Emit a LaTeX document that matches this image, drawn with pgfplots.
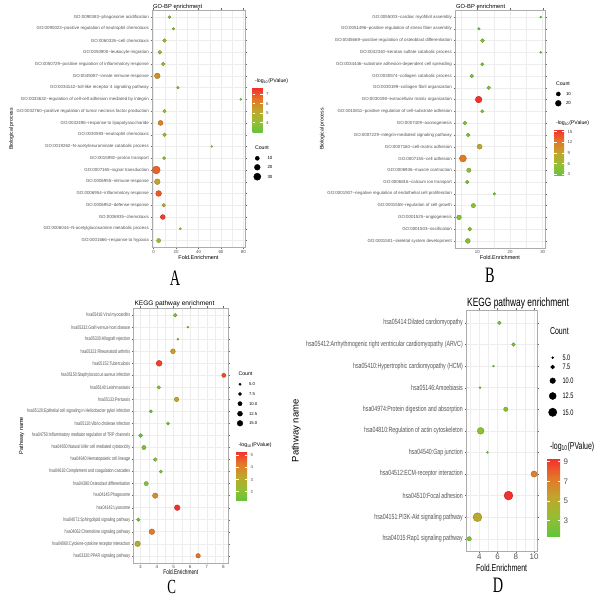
\documentclass[border=0pt]{standalone}
\usepackage{graphicx}
\usepackage{fontspec}
\setmainfont{Liberation Sans}
\newfontfamily\letterfont{Liberation Serif}
\usepackage{pgfplots}
\usepackage{pgfplotstable}
\pgfplotsset{compat=1.18}

\newcommand{\T}{\textasciitilde}
\newcommand{\fs}[1]{\fontsize{#1}{#1}\selectfont}
\newcommand{\sq}[1]{\scalebox{0.7}[1]{#1}}
\newcommand{\lp}{-log\textsubscript{10}(PValue)}
\definecolor{txt}{gray}{0.32}

% i = row counted from the bottom, fe = fold enrichment, n = count, p = -log10(P)
% A: GO-BP (first gene set)
\pgfplotstableread{
i  fe    n   p
20 14.2  5   4.3
19 17.7  4   3.8
18 9.7   8   4.6
17 5.6   9   4.2
16 8.6   8   4.4
15 3.3   19  5.8
14 21.6  4   4.0
13 77.6  2   3.5
12 9.8   7   4.2
11 6.2   15  6.2
10 9.7   8   4.7
9  51.7  2   4.0
8  9.4   6   3.8
7  2.4   36  6.8
6  3.3   19  5.3
5  4.5   20  7.0
4  9.1   8   4.9
3  8.2   14  7.4
2  23.8  3   3.9
1  4.5   10  4.1
}\dataA

% B: GO-BP (second gene set)
\pgfplotstableread{
i  fe    n   p
20 29.4  2   2.6
19 10.5  4   3.5
18 11.6  9   4.5
17 29.4  2   2.8
16 11.5  6   4.0
15 8.3   8   4.3
14 13.5  8   4.8
13 10.4  26  15.5
12 11.5  6   4.0
11 6.2   9   4.2
10 7.2   9   4.5
9  10.7  15  8.5
8  5.6   29  12.0
7  7.4   11  5.0
6  6.9   8   4.3
5  15.2  4   3.6
4  8.8   11  4.8
3  4.4   13  4.6
2  7.7   9   4.6
1  7.1   14  5.0
}\dataB

% C: KEGG (first gene set)
\pgfplotstableread{
i  fe    n   p
21 5.10  8   1.8
20 5.86  4   1.6
19 5.26  4   1.7
18 4.96  12  3.5
17 4.13  16  5.1
16 8.03  10  4.9
15 4.11  8   2.0
14 5.18  11  3.3
13 3.63  7   1.6
12 4.66  7   1.8
11 3.01  9   1.3
10 3.21  10  1.7
9  3.89  9   1.8
8  4.23  7   1.9
7  3.35  10  1.9
6  3.89  14  3.8
5  5.22  15  5.3
4  2.87  8   1.6
3  3.69  15  4.2
2  2.83  15  3.0
1  6.48  11  4.4
}\dataC

% D: KEGG (second gene set)
\pgfplotstableread{
i  fe    n   p
11 6.2   7   2.3
10 7.75  7   2.5
9  5.55  5   2.0
8  4.08  5   1.5
7  6.9   8   2.8
6  4.15  12  3.0
5  4.9   5   1.8
4  10.0  11  7.0
3  7.2   16  9.3
2  3.8   16  5.0
1  2.9   8   2.6
}\dataD

\pgfplotsset{
  /pgf/number format/assume math mode=true,
  colormap={gr}{rgb255=(100,195,60) rgb255=(150,190,50) rgb255=(192,165,45) rgb255=(228,118,40) rgb255=(243,45,45)},
  enr/.style={
    scale only axis,
    anchor=south west,
    ymin=0.4,
    tick align=outside,
    major tick length=1.5pt,
    minor tick length=0pt,
    tick style={black!60, line width=0.3pt},
    axis line style={gray!65, line width=0.5pt},
    grid=both,
    major grid style={gray!14, line width=0.45pt},
    minor grid style={gray!14, line width=0.25pt},
    ticklabel style={text=txt},
    xticklabel style={inner sep=1pt},
    yticklabel style={inner sep=1.5pt},
    every axis title/.style={at={(0,1)}, anchor=south west, inner sep=1pt},
    xlabel style={inner sep=0.5pt},
    ylabel style={inner sep=1pt},
    colormap name=gr,
    colorbar shift/.style={},
    colorbar,
  },
  cbar/.style={
    scale only axis,
    at={(parent axis.north west)},
    anchor=north west,
    axis line style={draw=none},
    tick align=inside,
    major tick length=2.5pt,
    ytick style={white, line width=0.5pt},
    ytick pos=both,
    yticklabel pos=right,
    yticklabel style={text=txt},
  },
  sizeA/.style={visualization depends on={0.65*sqrt(\thisrow{n}) \as \rad}},
  sizeC/.style={visualization depends on={1.01*sqrt(\thisrow{n})-1.09 \as \rad}},
  sizeD/.style={visualization depends on={1.94*sqrt(\thisrow{n})-3.34 \as \rad}},
  dots/.style={scatter, only marks, mark=*, point meta=\thisrow{p},
    scatter/@pre marker code/.append style={/tikz/mark size=\rad}},
  keys/.style={scatter, only marks, mark=*, point meta=\thisrow{n},
    scatter/use mapped color={draw=black, fill=black},
    scatter/@pre marker code/.append style={/tikz/mark size=\rad}},
}

\begin{document}
\begin{tikzpicture}
\path[use as bounding box] (0pt,0pt) rectangle (600pt,597pt);

% ---------- A ----------
\begin{axis}[enr,
  at={(152pt,349.4pt)}, width=93pt, height=237.6pt,
  xmin=-1.4, xmax=81.4, ymax=20.6,
  xtick={0,20,40,60,80}, minor xtick={10,30,50,70},
  ytick={1,...,20},
  yticklabels={
    GO:0001666\T response to hypoxia,
    GO:0006044\T N-acetylglucosamine metabolic process,
    GO:0006935\T chemotaxis,
    GO:0006952\T defense response,
    GO:0006954\T inflammatory response,
    GO:0006955\T immune response,
    GO:0007165\T signal transduction,
    GO:0015992\T proton transport,
    GO:0019262\T N-acetylneuraminate catabolic process,
    GO:0030593\T neutrophil chemotaxis,
    GO:0032496\T response to lipopolysaccharide,
    GO:0032760\T positive regulation of tumor necrosis factor production,
    GO:0033632\T regulation of cell-cell adhesion mediated by integrin,
    GO:0034142\T toll-like receptor 4 signaling pathway,
    GO:0045087\T innate immune response,
    GO:0050729\T positive regulation of inflammatory response,
    GO:0050900\T leukocyte migration,
    GO:0060326\T cell chemotaxis,
    GO:0090023\T positive regulation of neutrophil chemotaxis,
    GO:0090383\T phagosome acidification},
  ticklabel style={font=\fs{4.4}},
  title={GO-BP enrichment}, title style={font=\fs{5.8}},
  xlabel={Fold.Enrichment}, xlabel style={font=\fs{5.5}},
  ylabel={Biological process}, ylabel style={font=\fs{5.2}},
  point meta min=2.96, point meta max=7.66,
  colorbar style={cbar, xshift=100.7pt, yshift=-77.7pt,
    width=10pt, height=45pt, ytick={4,5,6,7}, yticklabel style={font=\fs{4.4}}},
]
\addplot[dots, sizeA] table[x=fe, y=i] {\dataA};
\end{axis}

% ---------- B ----------
\begin{axis}[enr,
  at={(455pt,349pt)}, width=90pt, height=238pt,
  xmin=3.18, xmax=30.7, ymax=20.6,
  xtick={10,20,30}, minor xtick={5,15,25},
  ytick={1,...,20},
  yticklabels={
    GO:0001501\T skeletal system development,
    GO:0001503\T ossification,
    GO:0001525\T angiogenesis,
    GO:0001558\T regulation of cell growth,
    GO:0001937\T negative regulation of endothelial cell proliferation,
    GO:0006816\T calcium ion transport,
    GO:0006936\T muscle contraction,
    GO:0007155\T cell adhesion,
    GO:0007160\T cell-matrix adhesion,
    GO:0007229\T integrin-mediated signaling pathway,
    GO:0007409\T axonogenesis,
    GO:0010811\T positive regulation of cell-substrate adhesion,
    GO:0030198\T extracellular matrix organization,
    GO:0030199\T collagen fibril organization,
    GO:0030574\T collagen catabolic process,
    GO:0034446\T substrate adhesion-dependent cell spreading,
    GO:0042340\T keratan sulfate catabolic process,
    GO:0045669\T positive regulation of osteoblast differentiation,
    GO:0051496\T positive regulation of stress fiber assembly,
    GO:0055003\T cardiac myofibril assembly},
  ticklabel style={font=\fs{4.4}},
  title={GO-BP enrichment}, title style={font=\fs{5.8}},
  xlabel={Fold.Enrichment}, xlabel style={font=\fs{5.5}},
  ylabel={Biological process}, ylabel style={font=\fs{5.2}},
  point meta min=2.52, point meta max=15.68,
  colorbar style={cbar, xshift=99pt, yshift=-119.3pt,
    width=10pt, height=46.7pt, ytick={3,6,9,12,15}, yticklabel style={font=\fs{4.4}}},
]
\addplot[dots, sizeA] table[x=fe, y=i] {\dataB};
\end{axis}

% ---------- C ----------
\begin{axis}[enr,
  at={(133.3pt,34pt)}, width=95pt, height=255pt,
  xmin=2.57, xmax=8.30, ymax=21.6,
  xtick={3,4,5,6,7,8}, minor xtick={3.5,4.5,5.5,6.5,7.5},
  ytick={1,...,21},
  yticklabels={
    \sq{hsa03320:PPAR signaling pathway},
    \sq{hsa04060:Cytokine-cytokine receptor interaction},
    \sq{hsa04062:Chemokine signaling pathway},
    \sq{hsa04071:Sphingolipid signaling pathway},
    \sq{hsa04142:Lysosome},
    \sq{hsa04145:Phagosome},
    \sq{hsa04380:Osteoclast differentiation},
    \sq{hsa04610:Complement and coagulation cascades},
    \sq{hsa04640:Hematopoietic cell lineage},
    \sq{hsa04650:Natural killer cell mediated cytotoxicity},
    \sq{hsa04750:Inflammatory mediator regulation of TRP channels},
    \sq{hsa05110:Vibrio cholerae infection},
    \sq{hsa05120:Epithelial cell signaling in Helicobacter pylori infection},
    \sq{hsa05133:Pertussis},
    \sq{hsa05140:Leishmaniasis},
    \sq{hsa05150:Staphylococcus aureus infection},
    \sq{hsa05152:Tuberculosis},
    \sq{hsa05323:Rheumatoid arthritis},
    \sq{hsa05330:Allograft rejection},
    \sq{hsa05332:Graft-versus-host disease},
    \sq{hsa05416:Viral myocarditis}},
  yticklabel style={font=\fs{5.2}},
  xticklabel style={font=\fs{4.6}, inner sep=0.7pt},
  title={KEGG pathway enrichment}, title style={font=\fs{6.6}},
  xlabel={\sq{Fold.Enrichment}}, xlabel style={font=\fs{6.8}, inner sep=0pt},
  ylabel={Pathway name}, ylabel style={font=\fs{5.6}},
  point meta min=1.23, point meta max=5.35,
  colorbar style={cbar, xshift=102.7pt, yshift=-143pt,
    width=11pt, height=50pt, ytick={2,3,4,5}, yticklabel style={font=\fs{4.4}}},
]
\addplot[dots, sizeC] table[x=fe, y=i] {\dataC};
\end{axis}

% ---------- D ----------
\begin{axis}[enr,
  at={(466pt,45.3pt)}, width=71.3pt, height=241.7pt,
  xmin=2.545, xmax=10.355, ymax=11.6,
  xtick={4,6,8,10}, minor xtick={3,5,7,9},
  ytick={1,...,11},
  yticklabels={
    \sq{hsa04015:Rap1 signaling pathway},
    \sq{hsa04151:PI3K-Akt signaling pathway},
    \sq{hsa04510:Focal adhesion},
    \sq{hsa04512:ECM-receptor interaction},
    \sq{hsa04540:Gap junction},
    \sq{hsa04810:Regulation of actin cytoskeleton},
    \sq{hsa04974:Protein digestion and absorption},
    \sq{hsa05146:Amoebiasis},
    \sq{hsa05410:Hypertrophic cardiomyopathy (HCM)},
    \sq{hsa05412:Arrhythmogenic right ventricular cardiomyopathy (ARVC)},
    \sq{hsa05414:Dilated cardiomyopathy}},
  yticklabel style={font=\fs{7.5}},
  xticklabel style={font=\fs{8}},
  title={\sq{KEGG pathway enrichment}}, title style={font=\fs{12}},
  xlabel={\sq{Fold.Enrichment}}, xlabel style={font=\fs{10}, inner sep=2.5pt},
  ylabel={Pathway name}, ylabel style={font=\fs{9.5}, inner sep=4pt},
  point meta min=1.40, point meta max=9.38,
  colorbar style={cbar, xshift=81pt, yshift=-148pt,
    width=13pt, height=78pt, ytick={3,5,7,9}, yticklabel style={font=\fs{8}}},
]
\addplot[dots, sizeD] table[x=fe, y=i] {\dataD};
\end{axis}

% ---------- legends and panel letters, in picture pixels ----------
\begin{axis}[at={(0pt,0pt)}, anchor=south west, scale only axis,
  width=600pt, height=597pt, xmin=0, xmax=600, ymin=-597, ymax=0,
  hide axis, clip=false]
\addplot[keys, sizeA] table {
x      y       n
257.3  -158.3  10
257.3  -167.3  20
257.3  -176.7  30
558.3  -94.0   10
558.3  -103.3  20
};
\addplot[keys, sizeC] table {
x      y       n
240.0  -384.3  5
240.0  -394.0  7.5
240.0  -403.7  10
240.0  -413.7  12.5
240.0  -423.3  15
};
\addplot[keys, sizeD] table {
x      y       n
552.7  -357.7  5
552.7  -367.0  7.5
552.7  -380.7  10
552.7  -396.0  12.5
552.7  -412.3  15
};
% A
\node[anchor=west, font=\fs{5.2}] at (axis cs:251.5,-80.7) {\lp};
\node[anchor=west, font=\fs{5.2}] at (axis cs:251.5,-147.7) {Count};
\node[anchor=west, font=\fs{4.4}] at (axis cs:264,-158.3) {10};
\node[anchor=west, font=\fs{4.4}] at (axis cs:264,-167.3) {20};
\node[anchor=west, font=\fs{4.4}] at (axis cs:264,-176.7) {30};
% B
\node[anchor=west, font=\fs{5.2}] at (axis cs:552.5,-84) {Count};
\node[anchor=west, font=\fs{4.4}] at (axis cs:562.5,-94) {10};
\node[anchor=west, font=\fs{4.4}] at (axis cs:562.5,-103.3) {20};
\node[anchor=west, font=\fs{5.2}] at (axis cs:552.5,-122.7) {\lp};
% C
\node[anchor=west, font=\fs{5.2}] at (axis cs:235,-373.7) {Count};
\node[anchor=west, font=\fs{4.2}] at (axis cs:245.5,-384.3) {5.0};
\node[anchor=west, font=\fs{4.2}] at (axis cs:245.5,-394) {7.5};
\node[anchor=west, font=\fs{4.2}] at (axis cs:245.5,-403.7) {10.0};
\node[anchor=west, font=\fs{4.2}] at (axis cs:245.5,-413.7) {12.5};
\node[anchor=west, font=\fs{4.2}] at (axis cs:245.5,-423.3) {15.0};
\node[anchor=west, font=\fs{5.2}] at (axis cs:235,-445) {\lp};
% D
\node[anchor=west, font=\fs{10}] at (axis cs:546.5,-331) {\sq{Count}};
\node[anchor=west, font=\fs{8}] at (axis cs:559,-357.7) {\sq{5.0}};
\node[anchor=west, font=\fs{8}] at (axis cs:559,-367.0) {\sq{7.5}};
\node[anchor=west, font=\fs{8}] at (axis cs:559,-380.7) {\sq{10.0}};
\node[anchor=west, font=\fs{8}] at (axis cs:559,-396.0) {\sq{12.5}};
\node[anchor=west, font=\fs{8}] at (axis cs:559,-412.3) {\sq{15.0}};
\node[anchor=west, font=\fs{10}] at (axis cs:546.5,-446.7) {\sq{\lp}};
% panel letters
\node[anchor=base, inner sep=0pt, font=\letterfont\fs{22}] at (axis cs:175,-286) {\scalebox{0.65}[1]{A}};
\node[anchor=base, inner sep=0pt, font=\letterfont\fs{22}] at (axis cs:490,-283) {\scalebox{0.65}[1]{B}};
\node[anchor=base, inner sep=0pt, font=\letterfont\fs{20}] at (axis cs:171.7,-594) {\scalebox{0.65}[1]{C}};
\node[anchor=base, inner sep=0pt, font=\letterfont\fs{22}] at (axis cs:498,-593) {\scalebox{0.65}[1]{D}};
\end{axis}
\end{tikzpicture}
\end{document}
